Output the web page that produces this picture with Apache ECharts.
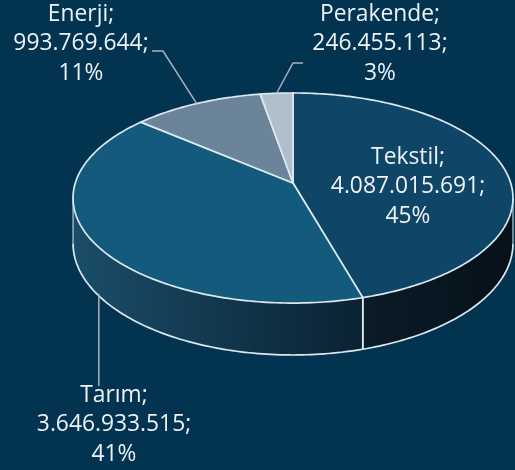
<!DOCTYPE html>
<html><head><meta charset="utf-8">
<script src="https://cdn.jsdelivr.net/npm/echarts@6/dist/echarts.min.js"></script>
<style>html,body{margin:0;padding:0;background:#023350;}#c{width:515px;height:470px;}</style>
</head><body><div id="c"></div>
<script>
const categories = ['Tekstil', 'Tarım', 'Enerji', 'Perakende'];
const values = [4087015691, 3646933515, 993769644, 246455113];
const percentLabels = ['45%', '41%', '11%', '3%'];

// layout / style (not data)
const topColors = ['#0f4566', '#135a7c', '#6c8499', '#b0bfcb'];
const sideGrad = [['#0a1c28', '#06111a'], ['#1a4d69', '#0a2232'], ['#4d6070', '#3a4a57'], ['#8a98a4', '#6f7c87']];
const G = { cx: 293, cy: 183, R: 217.7, k: 0.1429, s: 102.9, T: 44.5 };
const labelPos = [[408, 187], [114, 425], [81, 44], [380, 44]];
const leaderElbow = [null, null, [[152, 51], [163, 51]], [[303, 63], [293, 63]]];
const FONT = '22.8px "Open Sans"';

function proj(deg, dz) {
  const t = deg * Math.PI / 180;
  const u = Math.sin(t), v = Math.cos(t);
  const w = 1 + G.k * v;
  return [G.cx + G.R * u / w, G.cy - G.s * v / w + G.T * dz / w];
}
const total = values.reduce((a, b) => a + b, 0);
const starts = [], ends = [];
(function () { let acc = 0; values.forEach((v, i) => { starts[i] = acc / total * 360; acc += v; ends[i] = acc / total * 360; }); })();
function arc(a, b, dz) { const pts = []; const n = Math.max(2, Math.ceil((b - a) / 1)); for (let j = 0; j <= n; j++) pts.push(proj(a + (b - a) * j / n, dz)); return pts; }
function fmt(n) { return String(n).replace(/\B(?=(\d{3})+(?!\d))/g, '.'); }
const VIS_A = 180 - Math.acos(G.k) * 180 / Math.PI; // ~98.2
const VIS_B = 360 - VIS_A;
const EDGE = '#dbe8ef';

const chart = echarts.init(document.getElementById('c'));
chart.setOption({
  backgroundColor: '#023350',
  animation: false,
  series: [
    {
      type: 'custom', coordinateSystem: 'none', z: 1,
      data: values,
      renderItem: function (params, api) {
        const i = params.dataIndex;
        const a = Math.max(starts[i], VIS_A), b = Math.min(ends[i], VIS_B);
        if (b <= a) return { type: 'group', children: [] };
        const topA = arc(a, b, 0), botA = arc(a, b, 1);
        const poly = topA.concat(botA.slice().reverse());
        const xs = poly.map(p => p[0]);
        const children = [{
          type: 'polygon', shape: { points: poly },
          style: { fill: new echarts.graphic.LinearGradient(Math.min(...xs), 0, Math.max(...xs), 0, [{ offset: 0, color: sideGrad[i][0] }, { offset: 1, color: sideGrad[i][1] }], true), stroke: null }
        }, {
          type: 'polyline', shape: { points: botA }, style: { stroke: EDGE, lineWidth: 1.7, fill: null }
        }];
        [a, b].forEach(function (d) {
          children.push({ type: 'line', shape: { x1: proj(d, 0)[0], y1: proj(d, 0)[1], x2: proj(d, 1)[0], y2: proj(d, 1)[1] }, style: { stroke: EDGE, lineWidth: (d === VIS_A || d === VIS_B) ? 1 : 1.7 } });
        });
        return { type: 'group', children: children };
      }
    },
    {
      type: 'custom', coordinateSystem: 'none', z: 2,
      data: values,
      renderItem: function (params, api) {
        const i = params.dataIndex;
        const pts = [[G.cx, G.cy]].concat(arc(starts[i], ends[i], 0));
        return {
          type: 'group', children: [
            { type: 'polygon', shape: { points: pts }, style: { fill: topColors[i], stroke: EDGE, lineWidth: 1.7, lineJoin: 'round' } }
          ]
        };
      }
    },
    {
      type: 'custom', coordinateSystem: 'none', z: 3,
      data: values,
      renderItem: function (params, api) {
        const i = params.dataIndex;
        const mid = (starts[i] + ends[i]) / 2;
        const children = [{
          type: 'text',
          style: {
            text: categories[i] + ';\n' + fmt(api.value(0)) + ';\n' + percentLabels[i],
            x: labelPos[i][0], y: labelPos[i][1], align: 'center', verticalAlign: 'middle',
            lineHeight: 29.5, font: FONT, fill: '#eef3f6'
          }
        }];
        if (i === 1) {
          const p = proj(mid, 1);
          children.push({ type: 'line', shape: { x1: p[0] + 4, y1: p[1] + 2, x2: p[0] + 4, y2: 386 }, style: { stroke: '#a7b3bb', lineWidth: 1.5 } });
        } else if (leaderElbow[i]) {
          const p = proj(mid, 0);
          children.push({ type: 'polyline', shape: { points: leaderElbow[i].concat([p]) }, style: { stroke: '#a7b3bb', lineWidth: 1.5, fill: null } });
        }
        return { type: 'group', children: children };
      }
    }
  ]
});
</script></body></html>
